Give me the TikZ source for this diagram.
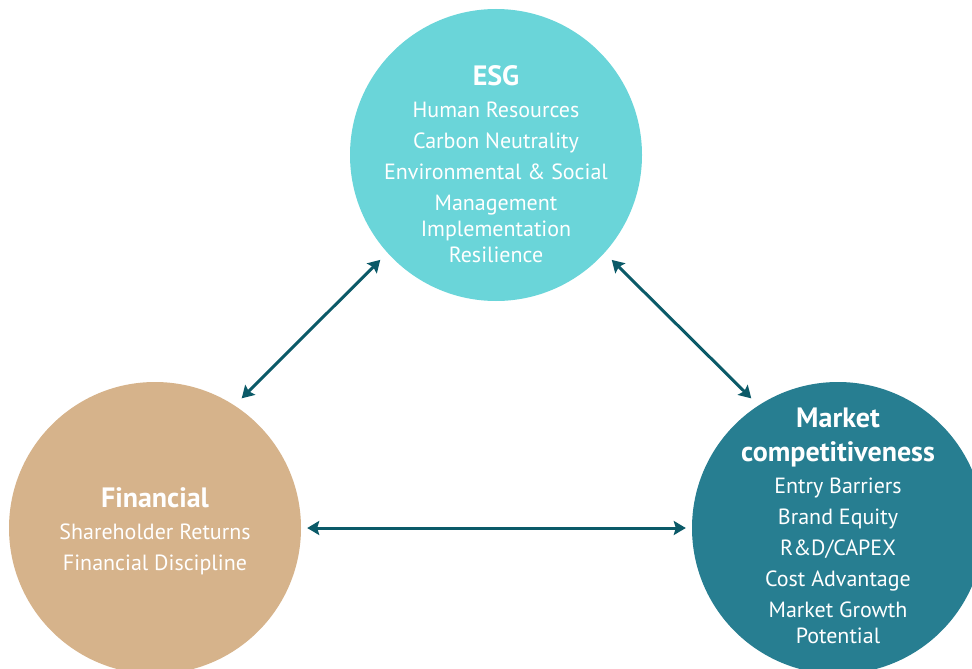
\documentclass[tikz,border=0pt]{standalone}
\usepackage{fontspec}
\setmainfont{PT Sans}
\usetikzlibrary{arrows.meta, positioning}
\definecolor{esgcol}{HTML}{6AD5D9}
\definecolor{fincol}{HTML}{D6B38B}
\definecolor{mktcol}{HTML}{277E91}
\definecolor{linkcol}{HTML}{0B5A68}
\tikzset{
    pillar/.style={circle, minimum size=292pt, inner sep=0pt, draw=none},
    pillartext/.style={text=white, align=center, font=\fontsize{22}{31}\selectfont},
    link/.style={{Stealth[length=12pt,width=14pt,inset=2pt]}-{Stealth[length=12pt,width=14pt,inset=2pt]}, line width=3pt, draw=linkcol, shorten <=10pt, shorten >=10pt}
}
\newcommand{\heading}[1]{{\bfseries\fontsize{28}{31}\selectfont #1}}

\begin{document}
\begin{tikzpicture}[x=1pt, y=-1pt]
    \useasboundingbox (0,0) rectangle (972,669);
    % the three circles
    \node[pillar, fill=esgcol] (esg) at (496,155) {};
    \node[pillar, fill=fincol] (fin) at (155,528) {};
    \node[pillar, fill=mktcol] (mkt) at (838,528) {};
    % texts
    \node[pillartext] (esgtext) at (496,164) {\heading{ESG}\\[1pt]
        Human Resources\\ Carbon Neutrality\\ Environmental \& Social\\
        Management\\[-5pt] Implementation\\[-5pt] Resilience};
    \node[pillartext] (fintext) at (155,531) {\heading{Financial}\\[1pt]
        Shareholder Returns\\ Financial Discipline};
    \node[pillartext] (mkttext) at (838,526) {\heading{Market}\\[3pt]
        \heading{competitiveness}\\[1pt]
        Entry Barriers\\ Brand Equity\\ R\&D/CAPEX\\ Cost Advantage\\
        Market Growth\\[-5pt] Potential};
    % links
    \draw[link] (fin.57) -- (esg.222);
    \draw[link] (esg.318) -- (mkt.123);
    \draw[link, shorten <=6pt, shorten >=6pt] (fin.east) -- (mkt.west);
\end{tikzpicture}
\end{document}
